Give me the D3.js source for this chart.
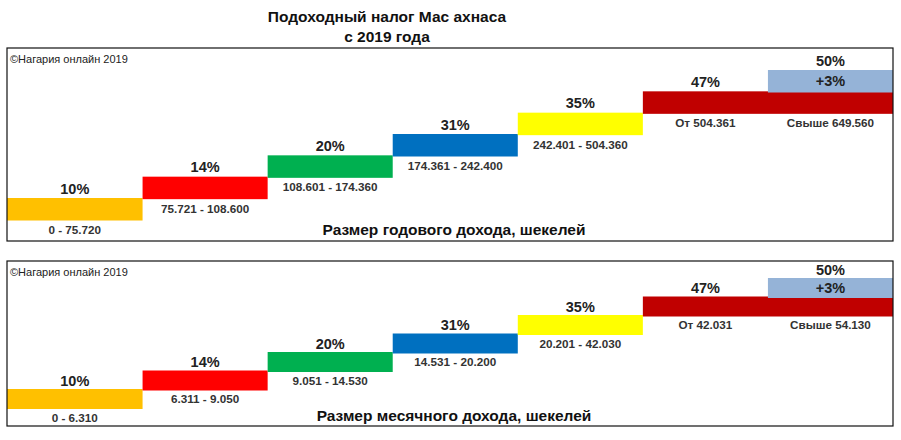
<!DOCTYPE html>
<html><head><meta charset="utf-8">
<script src="https://cdn.jsdelivr.net/npm/d3@7"></script>
<style>
html,body{margin:0;padding:0;background:#fff;}
svg{display:block;font-family:Arial,"Liberation Sans",sans-serif;}
</style></head>
<body>
<svg id="chart" width="901" height="440"></svg>
<script>
const titleLines = ["Подоходный налог Мас ахнаса", "с 2019 года"];
const copyright = "©Нагария онлайн 2019";
const rateLabels = ["10%", "14%", "20%", "31%", "35%", "47%", "50%"];
const surtaxLabel = "+3%";
const annualRanges = ["0 - 75.720", "75.721 - 108.600", "108.601 - 174.360", "174.361 - 242.400", "242.401 - 504.360", "От 504.361", "Свыше 649.560"];
const monthlyRanges = ["0 - 6.310", "6.311 - 9.050", "9.051 - 14.530", "14.531 - 20.200", "20.201 - 42.030", "От 42.031", "Свыше 54.130"];
const axisTitles = ["Размер годового дохода, шекелей", "Размер месячного дохода, шекелей"];
const barColors = ["#FFC000", "#FF0000", "#00B050", "#0070C0", "#FFFF00", "#C00000", "#95B3D7"];

const svg = d3.select("#chart");
const panelL = 7, panelR = 893;

// title
svg.append("g").selectAll("text").data(titleLines).join("text")
  .attr("x", 387).attr("y", (d, i) => 22 + i * 20)
  .attr("text-anchor", "middle").attr("font-weight", "bold").attr("font-size", 15.5)
  .attr("fill", "#111").text(d => d);

const panels = [
  {top: 48, bottom: 241, y0: 198, y6: 70, barH: 22.5, ranges: annualRanges, title: axisTitles[0], pctGap: 4.5, rangeGap: 13.5, titleY: 235},
  {top: 261, bottom: 426, y0: 389, y6: 278, barH: 20, ranges: monthlyRanges, title: axisTitles[1], pctGap: 3.5, rangeGap: 12.5, titleY: 421}
];

const idx = d3.range(rateLabels.length);
const x = d3.scaleBand().domain(idx).range([17.5, panelR]).paddingInner(0).paddingOuter(0);

panels.forEach(p => {
  const g = svg.append("g");
  const y = d3.scaleLinear().domain([0, rateLabels.length - 1]).range([p.y0, p.y6]);

  const last = rateLabels.length - 1;
  const bars = idx.map(i => {
    const x0 = i === 0 ? panelL : x(i);
    const x1 = (i === last - 1) ? panelR : x(i) + x.bandwidth();
    return {i, x0, x1, y: y(i), color: barColors[i]};
  });

  g.selectAll("rect.bar").data(bars).join("rect").attr("class", "bar")
    .attr("x", d => d.x0).attr("y", d => d.y)
    .attr("width", d => d.x1 - d.x0).attr("height", p.barH)
    .attr("fill", d => d.color);

  const colCenter = i => i === 0 ? (panelL + x(0) + x.bandwidth()) / 2 : x(i) + x.bandwidth() / 2;
  g.selectAll("text.pct").data(idx).join("text").attr("class", "pct")
    .attr("x", i => colCenter(i)).attr("y", i => y(i) - p.pctGap)
    .attr("text-anchor", "middle").attr("font-weight", "bold").attr("font-size", 14.5)
    .attr("fill", "#222").text(i => rateLabels[i]);

  g.append("text")
    .attr("x", colCenter(last)).attr("y", y(last) + p.barH / 2 + 5)
    .attr("text-anchor", "middle").attr("font-weight", "bold").attr("font-size", 14.5)
    .attr("fill", "#222").text(surtaxLabel);

  g.selectAll("text.rng").data(idx).join("text").attr("class", "rng")
    .attr("x", i => colCenter(i))
    .attr("y", i => (i === last ? y(last - 1) : y(i)) + p.barH + p.rangeGap)
    .attr("text-anchor", "middle").attr("font-weight", "bold").attr("font-size", 11.7)
    .attr("fill", "#333").text(i => p.ranges[i]);

  g.append("text").attr("x", 454).attr("y", p.titleY)
    .attr("text-anchor", "middle").attr("font-weight", "bold").attr("font-size", 15.5)
    .attr("fill", "#111").text(p.title);

  g.append("text").attr("x", 10).attr("y", p.top + 15)
    .attr("font-size", 11).attr("fill", "#222").text(copyright);

  g.append("rect").attr("x", panelL).attr("y", p.top)
    .attr("width", panelR - panelL).attr("height", p.bottom - p.top)
    .attr("fill", "none").attr("stroke", "#111").attr("stroke-width", 1.2);
});
</script>
</body></html>
